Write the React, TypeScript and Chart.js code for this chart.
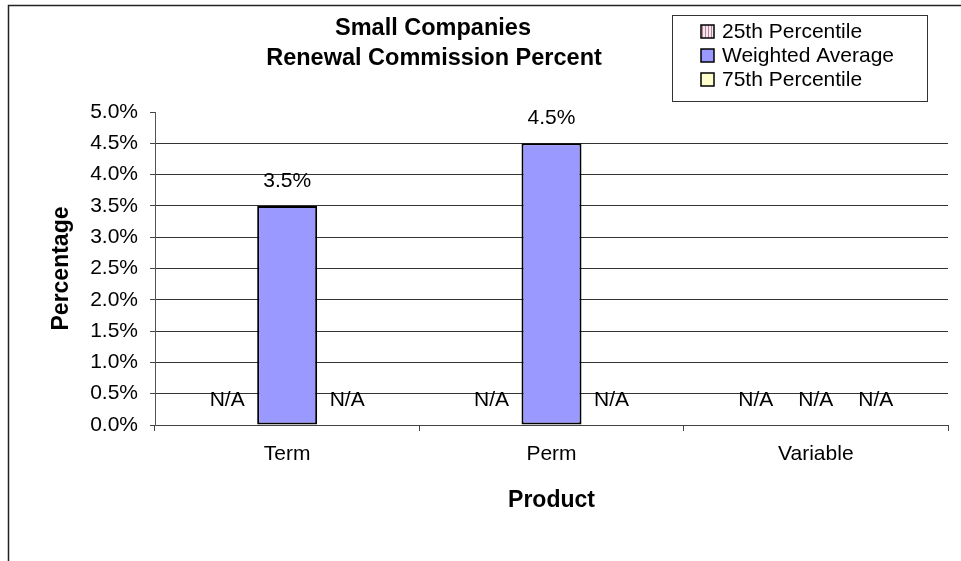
import React, { useEffect, useRef } from 'react';
import { Chart, registerables } from 'chart.js';

Chart.register(...registerables);

const categories = ['Term', 'Perm', 'Variable'];
const seriesNames = ['25th Percentile', 'Weighted Average', '75th Percentile'];
const p25Values: (number | null)[] = [null, null, null];
const weightedAvgValues: (number | null)[] = [3.5, 4.5, null];
const p75Values: (number | null)[] = [null, null, null];
const yTickValues = [0, 0.5, 1, 1.5, 2, 2.5, 3, 3.5, 4, 4.5, 5];
const titleLines = ['Small Companies', 'Renewal Commission Percent'];
const xAxisTitle = 'Product';
const yAxisTitle = 'Percentage';
const naLabel = 'N/A';

const FONT = '"Liberation Sans", Arial, Helvetica, sans-serif';
const W = 961;
const H = 561;

function makeStripePattern(ctx: CanvasRenderingContext2D): CanvasPattern | string {
  const c = document.createElement('canvas');
  c.width = 3;
  c.height = 3;
  const g = c.getContext('2d');
  if (!g) return '#E8C8D8';
  g.fillStyle = '#F6E6EE';
  g.fillRect(0, 0, 3, 3);
  g.fillStyle = '#B8849C';
  g.fillRect(0, 0, 1, 3);
  return ctx.createPattern(c, 'repeat') || '#E8C8D8';
}

export default function App() {
  const ref = useRef<HTMLCanvasElement | null>(null);

  useEffect(() => {
    const canvas = ref.current;
    if (!canvas) return;
    const ctx0 = canvas.getContext('2d');
    if (!ctx0) return;
    const stripe = makeStripePattern(ctx0);
    const fills: (string | CanvasPattern)[] = [stripe, '#9999FF', '#FFFFCC'];

    const framePlugin = {
      id: 'framePlugin',
      beforeDraw(chart: any) {
        const c = chart.ctx;
        c.save();
        c.fillStyle = '#ffffff';
        c.fillRect(0, 0, W, H);
        c.strokeStyle = '#222';
        c.lineWidth = 1.5;
        c.beginPath();
        c.moveTo(8.5, H + 2);
        c.lineTo(8.5, 5.5);
        c.lineTo(W + 2, 5.5);
        c.stroke();
        c.restore();
      },
    };

    const decorPlugin = {
      id: 'decorPlugin',
      afterDraw(chart: any) {
        const c: CanvasRenderingContext2D = chart.ctx;
        const area = chart.chartArea;
        c.save();
        // Title
        c.fillStyle = '#000';
        c.textAlign = 'center';
        c.textBaseline = 'middle';
        c.font = `bold 23.5px ${FONT}`;
        c.fillText(titleLines[0], 433, 29);
        c.fillText(titleLines[1], 434, 59);

        // Axis titles
        c.font = `bold 23px ${FONT}`;
        c.fillText(xAxisTitle, (area.left + area.right) / 2, 501);
        c.save();
        c.translate(62, (area.top + area.bottom) / 2);
        c.rotate(-Math.PI / 2);
        c.fillText(yAxisTitle, 0, 0);
        c.restore();

        // Legend
        c.fillStyle = '#ffffff';
        c.fillRect(672, 15, 256, 87);
        c.strokeStyle = '#333';
        c.lineWidth = 1;
        c.strokeRect(672.5, 15.5, 255, 86);
        c.font = `21px ${FONT}`;
        c.textAlign = 'left';
        c.textBaseline = 'middle';
        const rows = [31, 55, 79];
        seriesNames.forEach((name, i) => {
          const cy = rows[i];
          c.fillStyle = fills[i] as any;
          c.fillRect(701, cy - 6, 13, 13);
          c.strokeStyle = '#000';
          c.lineWidth = 1.5;
          c.strokeRect(701, cy - 6, 13, 13);
          c.fillStyle = '#000';
          c.fillText(name, 722, cy + 1);
        });

        // Data labels
        const yScale = chart.scales.y;
        c.font = `21px ${FONT}`;
        c.textAlign = 'center';
        c.textBaseline = 'middle';
        c.fillStyle = '#000';
        chart.data.datasets.forEach((ds: any, di: number) => {
          const meta = chart.getDatasetMeta(di);
          ds.data.forEach((v: number | null, i: number) => {
            const el = meta.data[i];
            if (!el) return;
            const x = el.x;
            const yv = v == null ? 0 : v;
            const y = yScale.getPixelForValue(yv) - 25;
            const txt = v == null ? naLabel : `${v.toFixed(1)}%`;
            c.fillText(txt, x, y);
          });
        });
        c.restore();
      },
    };

    const barCommon = {
      borderColor: '#000',
      borderWidth: 2,
      borderSkipped: false,
      categoryPercentage: 0.681,
      barPercentage: 1,
    };

    const chart = new Chart(canvas, {
      type: 'bar',
      data: {
        labels: categories,
        datasets: [
          { label: seriesNames[0], data: p25Values, backgroundColor: stripe as any, ...barCommon },
          { label: seriesNames[1], data: weightedAvgValues, backgroundColor: '#9999FF', ...barCommon },
          { label: seriesNames[2], data: p75Values, backgroundColor: '#FFFFCC', ...barCommon },
        ],
      },
      options: {
        responsive: false,
        animation: false,
        devicePixelRatio: 1,
        layout: { padding: { left: 0, top: 112, right: 13, bottom: 0 } },
        plugins: {
          legend: { display: false },
          title: { display: false },
          tooltip: { enabled: false },
        },
        scales: {
          x: {
            type: 'category',
            offset: true,
            grid: {
              display: true,
              offset: true,
              drawOnChartArea: false,
              drawTicks: true,
              tickLength: 6,
              tickColor: '#444',
              color: '#444',
            },
            border: { display: true, color: '#444', width: 1 },
            ticks: {
              color: '#000',
              font: { family: FONT, size: 21 },
              padding: 11,
              maxRotation: 0,
              autoSkip: false,
            },
            afterFit: (scale: any) => {
              scale.height = 136;
            },
          },
          y: {
            type: 'linear',
            min: 0,
            max: 5,
            afterBuildTicks: (scale: any) => {
              scale.ticks = yTickValues.map((v) => ({ value: v }));
            },
            grid: {
              display: true,
              drawOnChartArea: true,
              drawTicks: true,
              tickLength: 5,
              color: (ctx: any) => (ctx.tick && ctx.tick.value === 5 ? 'rgba(0,0,0,0)' : '#333'),
              tickColor: '#444',
              lineWidth: 1,
            },
            border: { display: true, color: '#555', width: 1 },
            ticks: {
              color: '#000',
              font: { family: FONT, size: 21 },
              padding: 12,
              callback: (v: any) => `${Number(v).toFixed(1)}%`,
            },
            afterFit: (scale: any) => {
              scale.width = 155;
            },
          },
        },
      } as any,
      plugins: [framePlugin, decorPlugin],
    });

    return () => {
      chart.destroy();
    };
  }, []);

  return (
    <div style={{ position: 'absolute', left: 0, top: 0, width: W, height: H }}>
      <canvas ref={ref} width={W} height={H} style={{ width: W, height: H, display: 'block' }} />
    </div>
  );
}
